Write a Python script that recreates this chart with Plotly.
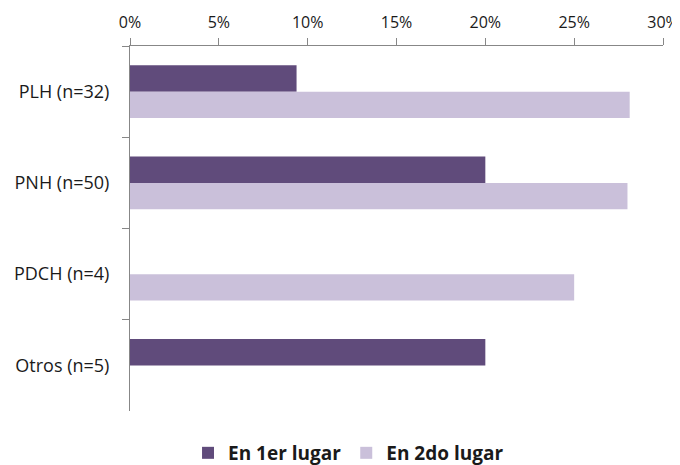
import plotly.graph_objects as go

categories = ["PLH (n=32)", "PNH (n=50)", "PDCH (n=4)", "Otros (n=5)"]
primer_lugar = [0.09375, 0.20, 0.0, 0.20]
segundo_lugar = [0.28125, 0.28, 0.25, 0.0]
x_ticks = [0, 0.05, 0.10, 0.15, 0.20, 0.25, 0.30]
series_names = ["En 1er lugar", "En 2do lugar"]

FONT = "Open Sans"
AXIS_COLOR = "#878787"
TEXT_COLOR = "#1a1a1a"

# The page body has a default 8px margin, so the figure is drawn 8px in
# from the window's top-left corner; size and margins compensate for it.
fig = go.Figure()
fig.add_trace(go.Bar(
    y=categories, x=primer_lugar, orientation="h", name=series_names[0],
    marker=dict(color="#604B7B", line=dict(width=0)),
))
fig.add_trace(go.Bar(
    y=categories, x=segundo_lugar, orientation="h", name=series_names[1],
    marker=dict(color="#CAC0DA", line=dict(width=0)),
))

fig.update_layout(
    width=672, height=457,
    margin=dict(l=122, r=17, t=38, b=54, autoexpand=False),
    paper_bgcolor="white", plot_bgcolor="white",
    barmode="group", bargap=0.42, bargroupgap=0,
    font=dict(family=FONT, size=16, color=TEXT_COLOR),
    showlegend=True,
    legend=dict(
        orientation="h", x=0.41, xanchor="center", y=-0.115, yanchor="middle",
        font=dict(family=FONT, size=19, color=TEXT_COLOR, weight="bold"),
        itemwidth=30, traceorder="normal",
    ),
    xaxis=dict(
        side="top", range=[0, 0.30], tickvals=x_ticks, tickformat=".0%",
        showgrid=False, zeroline=False, automargin=False,
        showline=True, linecolor=AXIS_COLOR, linewidth=1,
        ticks="outside", ticklen=7, tickcolor=AXIS_COLOR,
        tickfont=dict(family=FONT, size=16, color=TEXT_COLOR),
        ticklabelstandoff=4, ticklabeloverflow="allow",
        fixedrange=True,
    ),
    yaxis=dict(
        autorange="reversed", categoryorder="array", categoryarray=categories,
        showgrid=False, zeroline=False, automargin=False,
        showline=True, linecolor=AXIS_COLOR, linewidth=1,
        ticks="outside", ticklen=7, tickcolor=AXIS_COLOR, tickson="boundaries",
        tickfont=dict(family=FONT, size=18, color=TEXT_COLOR),
        ticklabelstandoff=16,
        fixedrange=True,
    ),
)

fig.write_html("out.html")
